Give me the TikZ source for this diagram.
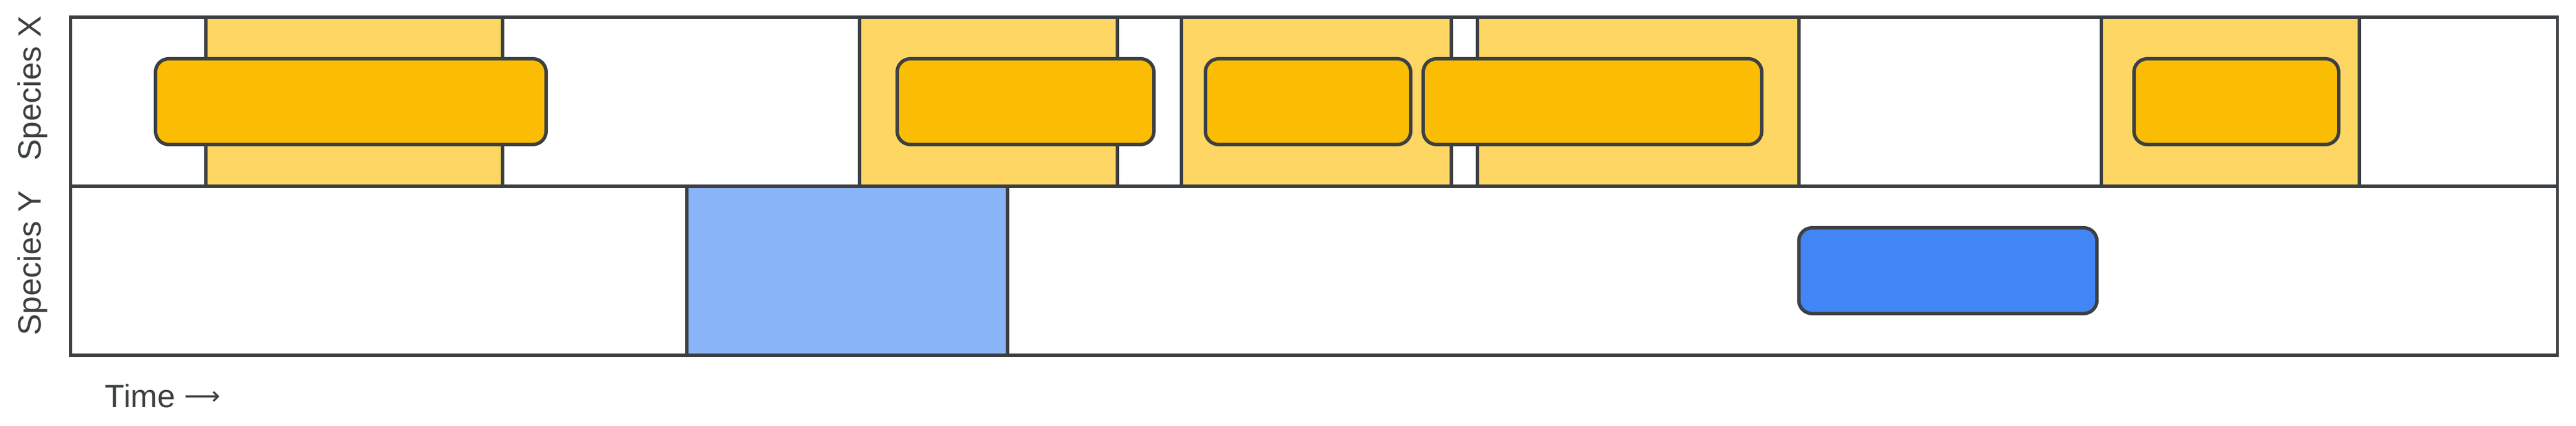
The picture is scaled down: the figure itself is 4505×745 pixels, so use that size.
\documentclass[tikz,border=0pt]{standalone}
\usepackage{fontspec}
\setmainfont{Liberation Sans}
\newfontfamily\arrowfont{DejaVu Sans}
\definecolor{ink}{HTML}{3C4043}
\definecolor{yellowlight}{HTML}{FDD663}
\definecolor{yellowdark}{HTML}{FBBC04}
\definecolor{bluelight}{HTML}{8AB4F8}
\definecolor{bluedark}{HTML}{4285F4}
\tikzset{
  lane/.style={draw=ink, line width=0.055cm, fill=white, minimum width=43.46cm, minimum height=2.96cm, inner sep=0, outer sep=0},
  zone/.style={draw=ink, line width=0.055cm, minimum height=2.96cm, inner sep=0, outer sep=0},
  bar/.style={draw=ink, line width=0.06cm, rounded corners=0.23cm, minimum height=1.5cm, inner sep=0, outer sep=0},
  lab/.style={text=ink, font=\fontsize{16}{19}\selectfont, inner sep=0},
}

\begin{document}
\begin{tikzpicture}[x=0.01cm, y=0.01cm]
\useasboundingbox (0,0) rectangle (4505,745);
\node at (2298,567) [lane] (laneX) {}; % 上行
\node at (2298,271) [lane] (laneY) {}; % 下行
\foreach \a/\b [count=\i] in {360/879,1503/1954,2066/2538,2584/3146,3675/4126} {
    \node at ({(\a+\b)/2},567) [zone, fill=yellowlight, minimum width={(\b-\a)*0.01cm}] (zx\i) {}; % 浅色区间
}
\foreach \a/\b [count=\i] in {272/955,1569/2018,2108/2467,2489/3081,3732/4090} {
    \node at ({(\a+\b)/2},567) [bar, fill=yellowdark, minimum width={(\b-\a)*0.01cm}] (bx\i) {}; % 圆角条
}
\node at (1481.5,271) [zone, fill=bluelight, minimum width=5.61cm] (zy1) {};
\node at (3406.5,271) [bar, fill=bluedark, minimum width=5.21cm] (by1) {};
\node at (71,590) [lab, rotate=90, anchor=base] (labX) {Species X}; % 左侧标签
\node at (71,284) [lab, rotate=90, anchor=base] (labY) {Species Y};
\node at (183,32) [lab, anchor=base west] (labT) {Time \raisebox{1.2pt}{\arrowfont\fontsize{12.5}{12.5}\selectfont ⟶}}; % 时间轴
\end{tikzpicture}
\end{document}
